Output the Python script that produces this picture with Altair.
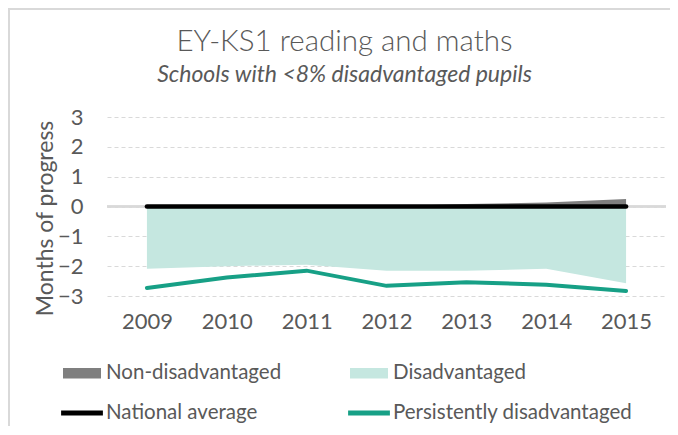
import altair as alt
import pandas as pd

years = ["2009", "2010", "2011", "2012", "2013", "2014", "2015"]
non_disadvantaged = [0.0, 0.0, 0.0, 0.01, 0.08, 0.13, 0.25]
disadvantaged = [-2.09, -2.00, -1.95, -2.15, -2.15, -2.09, -2.57]
national_average = [0, 0, 0, 0, 0, 0, 0]
persistently_disadvantaged = [-2.73, -2.38, -2.15, -2.66, -2.54, -2.62, -2.83]

series_names = ["Non-disadvantaged", "Disadvantaged", "National average",
                "Persistently disadvantaged"]
series_colors = ["#7F7F7F", "#C5E7E0", "#000000", "#17A086"]
y_ticks = [-3, -2, -1, 0, 1, 2, 3]

rows = []
for name, vals in zip(series_names, [non_disadvantaged, disadvantaged,
                                     national_average, persistently_disadvantaged]):
    for yr, v in zip(years, vals):
        rows.append({"year": yr, "series": name, "value": v})
df = pd.DataFrame(rows)

legend_rows = pd.DataFrame({"series": series_names,
                            "year": years[:4],
                            "value": [None, None, None, None]})

FONT = "Lato"
TEXT = "#595959"
GRID = "#D9D9D9"
W, H = 559, 179

RECT = "M-1,-0.28H1V0.28H-1Z"
LINE = "M-1.1,-0.13H1.1V0.13H-1.1Z"

x_scale = alt.Scale(type="point", padding=0.5, round=False)
x_axis = alt.Axis(labelAngle=0, labelFont=FONT, labelFontSize=22,
                  labelColor=TEXT, labelPadding=15, ticks=False,
                  domain=False, grid=False)
y_scale = alt.Scale(domain=[-3, 3], nice=False, zero=False)
y_axis = alt.Axis(values=y_ticks, tickCount=7, labelFont=FONT, labelFontSize=22,
                  labelColor=TEXT, labelPadding=24, labelOverlap=False,
                  ticks=False, tickSize=0, domain=False, grid=True,
                  gridColor=GRID, gridDash=[4, 3], gridWidth=1,
                  titleFont=FONT, titleFontSize=23,
                  titleFontWeight="normal", titleColor=TEXT,
                  titleAngle=-90, titleBaseline="middle",
                  titleX=-62, titleY=101)
Y_TITLE = "Months of progress"

x_enc = alt.X("year:O", title=None, scale=x_scale, axis=x_axis)
y_enc = alt.Y("value:Q", stack=None, title=Y_TITLE, scale=y_scale, axis=y_axis)

base = alt.Chart(df).encode(x=x_enc, y=y_enc)

border = alt.Chart(df).mark_rect(fillOpacity=0, stroke=GRID, strokeWidth=1.5).encode(
    x=alt.value(-98), x2=alt.value(W + 60), y=alt.value(-108), y2=alt.value(H + 200))

zero_rule = alt.Chart(df).mark_rule(color=GRID, strokeWidth=1.5).encode(
    y=alt.YDatum(0, title=Y_TITLE, scale=y_scale, axis=y_axis))

area_non = base.transform_filter(
    alt.datum.series == series_names[0]).mark_area(opacity=1, color=series_colors[0])
area_dis = base.transform_filter(
    alt.datum.series == series_names[1]).mark_area(opacity=1, color=series_colors[1])
line_nat = base.transform_filter(
    alt.datum.series == series_names[2]).mark_line(
        strokeWidth=4.5, strokeCap="round", color=series_colors[2])
line_per = base.transform_filter(
    alt.datum.series == series_names[3]).mark_line(
        strokeWidth=4, strokeCap="round", color=series_colors[3])

leg = alt.Legend(orient="none", legendX=-44, legendY=237, columns=2,
                 direction="horizontal",
                 symbolSize=1444, symbolStrokeWidth=0, symbolOpacity=1,
                 labelFont=FONT, labelFontSize=20.5, labelColor=TEXT,
                 labelOffset=5, columnPadding=66, rowPadding=10, padding=0,
                 labelLimit=400, title=None)
legend_layer = alt.Chart(legend_rows).mark_point(filled=True, opacity=1).encode(
    x=x_enc,
    y=y_enc,
    color=alt.Color("series:N", legend=leg,
                    scale=alt.Scale(domain=series_names, range=series_colors)),
    shape=alt.Shape("series:N", legend=leg,
                    scale=alt.Scale(domain=series_names, range=[RECT, RECT, LINE, LINE])),
)

chart = alt.layer(border, zero_rule, area_non, area_dis, line_nat, line_per,
                  legend_layer).properties(
    width=W, height=H,
    background="white",
    autosize=alt.AutoSizeParams(type="none"),
    padding={"left": 99, "top": 109, "right": 4, "bottom": 130},
    title=alt.TitleParams(
        text="EY-KS1 reading and maths",
        subtitle="Schools with <8% disadvantaged pupils",
        anchor="middle", frame="group", dx=-42, offset=-80,
        font=FONT, fontSize=29.5, fontWeight=300, color=TEXT,
        subtitleFont=FONT, subtitleFontSize=23, subtitleFontStyle="italic",
        subtitleColor=TEXT, subtitlePadding=7),
).configure_view(stroke="transparent")

chart.save("out.html", embed_options={"renderer": "svg", "actions": False})
